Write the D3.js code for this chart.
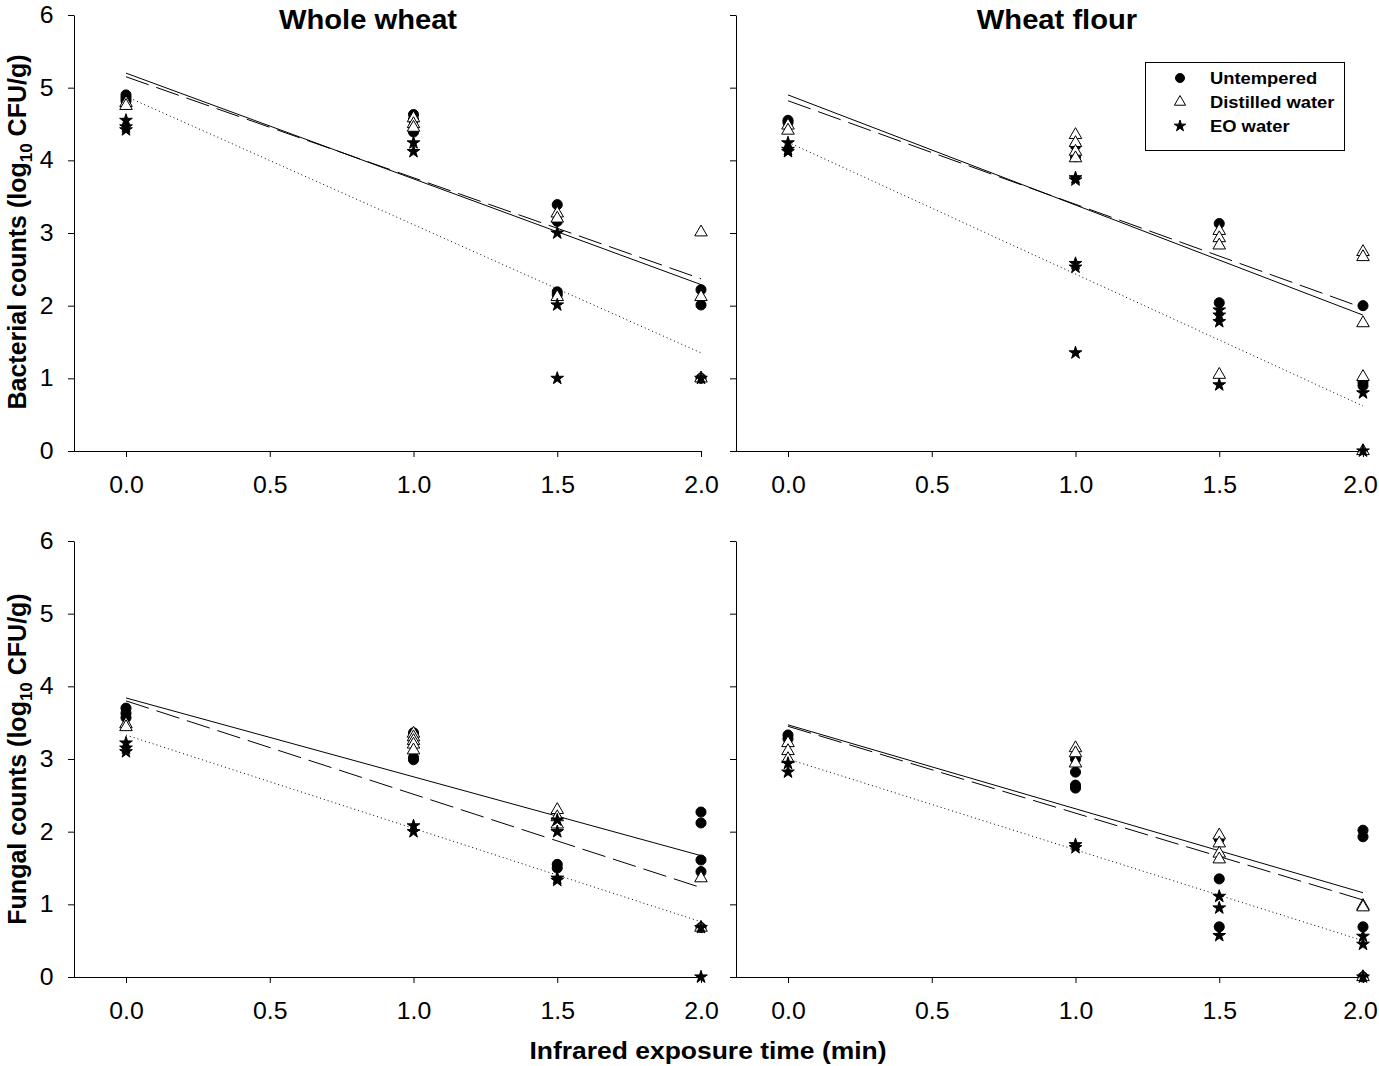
<!DOCTYPE html>
<html>
<head>
<meta charset="utf-8">
<script src="https://cdn.jsdelivr.net/npm/d3@7"></script>
<style>
  body { margin: 0; background: #fff; }
  svg text { font-family: "Liberation Sans", Arial, sans-serif; fill: #000; }
</style>
</head>
<body>
<div id="chart"></div>
<script>
var treatments = ["Untempered", "Distilled water", "EO water"];
var xTicks = [0, 0.5, 1, 1.5, 2];
var yTicks = [0, 1, 2, 3, 4, 5, 6];
var panelTitles = ["Whole wheat", "Wheat flour"];
var yTitles = ["Bacterial counts", "Fungal counts"];
var xTitle = "Infrared exposure time (min)";

// whole wheat, bacterial  [time, log CFU/g]
var wwBactUntempered = [[0,4.9],[0,4.86],[0,4.82],[1,4.63],[1,4.56],[1,4.39],[1.5,3.39],[1.5,3.16],[1.5,2.19],[1.5,2.15],[2,2.22],[2,2.01],[2,1.0]];
var wwBactDistilled = [[0,4.79],[0,4.75],[1,4.58],[1,4.5],[1,4.45],[1.5,3.27],[1.5,3.2],[1.5,2.12],[2,3.01],[2,2.12],[2,1.0]];
var wwBactEO = [[0,4.55],[0,4.46],[0,4.42],[1,4.24],[1,4.12],[1.5,3.0],[1.5,2.01],[1.5,1.0],[2,1.0]];
var wwBactFit = [[5.2,2.29],[5.15,2.37],[4.88,1.35]]; // value at 0 min, at 2 min

// wheat flour, bacterial
var wfBactUntempered = [[0,4.55],[0,4.52],[1,4.2],[1,4.05],[1.5,3.13],[1.5,2.04],[2,2.0],[2,0.95],[2,0.9]];
var wfBactDistilled = [[0,4.48],[0,4.41],[1,4.35],[1,4.24],[1,4.12],[1,4.03],[1.5,3.03],[1.5,2.93],[1.5,2.83],[1.5,1.05],[2,2.74],[2,2.67],[2,1.76],[2,1.02],[2,0]];
var wfBactEO = [[0,4.24],[0,4.15],[0,4.12],[1,3.76],[1,3.73],[1,2.58],[1,2.53],[1,1.35],[1.5,1.94],[1.5,1.87],[1.5,1.78],[1.5,0.91],[2,0.8],[2,0]];
var wfBactFit = [[4.9,1.87],[4.82,1.97],[4.25,0.62]];

// whole wheat, fungal
var wwFungUntempered = [[0,3.7],[0,3.63],[0,3.57],[1,3.36],[1,3.02],[1,2.99],[1.5,1.55],[1.5,1.5],[2,2.27],[2,2.12],[2,1.61],[2,1.45],[2,0.68]];
var wwFungDistilled = [[0,3.48],[0,3.44],[1,3.35],[1,3.3],[1,3.25],[1,3.2],[1,3.12],[1.5,2.3],[1.5,2.2],[1.5,2.1],[2,1.36],[2,0.68]];
var wwFungEO = [[0,3.22],[0,3.15],[0,3.1],[1,2.08],[1,2.0],[1.5,2.16],[1.5,2.0],[1.5,1.36],[1.5,1.33],[2,0.68],[2,0]];
var wwFungFit = [[3.84,1.67],[3.8,1.23],[3.33,0.76]];

// wheat flour, fungal
var wfFungUntempered = [[0,3.33],[0,3.28],[1,3.0],[1,2.82],[1,2.64],[1,2.6],[1.5,1.9],[1.5,1.35],[1.5,0.69],[2,2.02],[2,1.93],[2,0.69],[2,0]];
var wfFungDistilled = [[0,3.22],[0,3.11],[0,3.0],[1,3.15],[1,3.08],[1,2.94],[1.5,1.95],[1.5,1.84],[1.5,1.7],[1.5,1.62],[2,0.98],[2,0.96],[2,0]];
var wfFungEO = [[0,2.94],[0,2.82],[1,1.82],[1,1.78],[1.5,1.11],[1.5,0.95],[1.5,0.57],[2,0.56],[2,0.45],[2,0]];
var wfFungFit = [[3.47,1.16],[3.45,1.06],[3.0,0.5]];

var W = 1379, H = 1066;
var stretch = "scale(1.08,1)"; // source figure is a bit wide
var font = "'Liberation Sans', Arial, sans-serif";

var svg = d3.select("#chart").append("svg")
    .attr("width", W)
    .attr("height", H);

var cols = [
  { axisX: 74,  x0: 126, x2: 701 },
  { axisX: 736, x0: 788, x2: 1363 }
];
var rows = [
  { y0: 451, y6: 15 },
  { y0: 977, y6: 541 }
];

var dashes = [null, "24,8", "1,3"];
var symbols = [d3.symbolCircle, d3.symbolTriangle, d3.symbolStar];
var symSizes = [80, 68, 50];
var symFill = ["#000", "#fff", "#000"];

var drawPanel = function(col, row, series, fits, showYLabels) {
  var x = d3.scaleLinear().domain([0, 2]).range([col.x0, col.x2]);
  var y = d3.scaleLinear().domain([0, 6]).range([row.y0, row.y6]);
  var g = svg.append("g");

  // x axis
  var xAxis = g.append("g")
      .attr("transform", "translate(0," + row.y0 + ")")
      .call(d3.axisBottom(x)
        .tickValues(xTicks)
        .tickFormat(d3.format(".1f"))
        .tickSize(6)
        .tickSizeOuter(0)
        .tickPadding(20));
  xAxis.select(".domain").remove();
  xAxis.append("line")
      .attr("x1", col.axisX).attr("x2", col.x2 + 0.5)
      .attr("y1", 0.5).attr("y2", 0.5)
      .attr("stroke", "#000");
  xAxis.attr("font-size", 23).attr("font-family", font);
  xAxis.selectAll("text").attr("transform", function(d) {
    // keep the last label of the right panel inside the page
    return (col.x2 + 18 > W && d === 2) ? "translate(-3,0) " + stretch : stretch;
  });

  // y axis
  var yAxis = g.append("g")
      .attr("transform", "translate(" + col.axisX + ",0)")
      .call(d3.axisLeft(y)
        .tickValues(yTicks)
        .tickFormat(showYLabels ? d3.format("d") : "")
        .tickSize(6)
        .tickSizeOuter(0)
        .tickPadding(13));
  yAxis.attr("font-size", 23).attr("font-family", font);
  yAxis.selectAll("text").attr("transform", stretch);

  // fitted lines
  fits.forEach(function(f, i) {
    g.append("line")
        .attr("x1", x(0)).attr("y1", y(f[0]))
        .attr("x2", x(2)).attr("y2", y(f[1]))
        .attr("stroke", "#000")
        .attr("stroke-width", 1)
        .attr("stroke-dasharray", dashes[i]);
  });

  // points
  series.forEach(function(pts, i) {
    g.selectAll(null)
        .data(pts)
        .enter().append("path")
        .attr("transform", function(d) { return "translate(" + x(d[0]) + "," + y(d[1]) + ")"; })
        .attr("d", d3.symbol().type(symbols[i]).size(symSizes[i]))
        .attr("fill", symFill[i])
        .attr("stroke", "#000")
        .attr("stroke-width", 1);
  });
};

drawPanel(cols[0], rows[0], [wwBactUntempered, wwBactDistilled, wwBactEO], wwBactFit, true);
drawPanel(cols[1], rows[0], [wfBactUntempered, wfBactDistilled, wfBactEO], wfBactFit, false);
drawPanel(cols[0], rows[1], [wwFungUntempered, wwFungDistilled, wwFungEO], wwFungFit, true);
drawPanel(cols[1], rows[1], [wfFungUntempered, wfFungDistilled, wfFungEO], wfFungFit, false);

// panel titles
[368, 1057].forEach(function(cx, i) {
  svg.append("text")
      .attr("transform", "translate(" + cx + ",29) " + stretch)
      .attr("text-anchor", "middle")
      .attr("font-size", 27)
      .attr("font-weight", "bold")
      .text(panelTitles[i]);
});

// y titles (with log10 subscript)
[232, 759].forEach(function(cy, i) {
  var t = svg.append("text")
      .attr("transform", "translate(26," + cy + ") rotate(-90)")
      .attr("text-anchor", "middle")
      .attr("font-size", 25)
      .attr("font-weight", "bold");
  t.append("tspan").text(yTitles[i] + " (log");
  t.append("tspan").attr("font-size", 17).attr("dy", 6).text("10");
  t.append("tspan").attr("dy", -6).text(" CFU/g)");
});

// x title
svg.append("text")
    .attr("transform", "translate(708,1059) " + stretch)
    .attr("text-anchor", "middle")
    .attr("font-size", 24.5)
    .attr("font-weight", "bold")
    .text(xTitle);

// legend
var legend = svg.append("g");
legend.append("rect")
    .attr("x", 1145.5).attr("y", 62.5)
    .attr("width", 199).attr("height", 88)
    .attr("fill", "#fff")
    .attr("stroke", "#000");
treatments.forEach(function(name, i) {
  var ly = 78 + i * 24;
  legend.append("path")
      .attr("transform", "translate(1180," + ly + ")")
      .attr("d", d3.symbol().type(symbols[i]).size(symSizes[i] * 0.8))
      .attr("fill", symFill[i])
      .attr("stroke", "#000");
  legend.append("text")
      .attr("transform", "translate(1210," + (ly + 6) + ") " + stretch)
      .attr("font-size", 17)
      .attr("font-weight", "bold")
      .text(name);
});
</script>
</body>
</html>
